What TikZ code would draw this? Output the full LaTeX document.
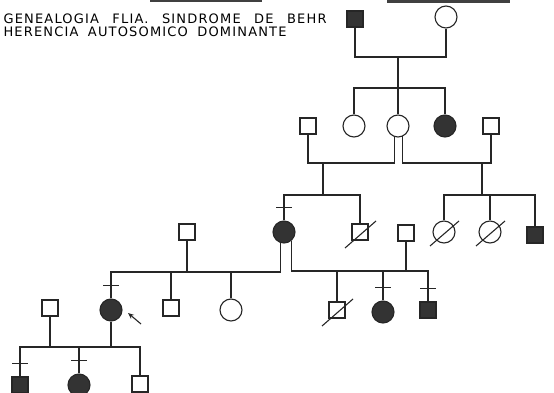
\documentclass[tikz,border=0pt]{standalone}
\usepackage{fontspec}
\newfontfamily\leroy[LetterSpace=9]{DejaVu Sans}
\usetikzlibrary{positioning}
\usetikzlibrary{arrows.meta}

\begin{document}
\begin{tikzpicture}[x=1pt,y=-1pt,line width=1.1pt,draw=black!85,
  male/.style={rectangle,draw,minimum size=16pt,inner sep=0pt},
  female/.style={circle,draw,minimum size=22pt,inner sep=0pt},
  aff/.style={fill=black!80}]
\useasboundingbox (0,0) rectangle (554,393);
\clip (0,0) rectangle (554,393);
\fill[black!75] (150,0) rectangle (262,2.5);
\fill[black!75] (387,0) rectangle (510,3);
\node[anchor=north west,align=left,inner sep=0pt,font=\leroy\fontsize{13}{13.5}\selectfont] (title) at (3,13)
  {\makebox[323pt][s]{GENEALOGIA FLIA. SINDROME DE BEHR}\\\makebox[283pt][s]{HERENCIA AUTOSOMICO DOMINANTE}};

% generation I
\node[male,aff] (I1) at (355,19) {};
\node[female] (I2) at (446,17) {};
% generation II
\node[male] (II1) at (308,126) {};
\node[female] (II2) at (354,126) {};
\node[female] (II3) at (398,126) {};
\node[female,aff] (II4) at (445,126) {};
\node[male] (II5) at (491,126) {};
% generation III
\node[male] (III1) at (187,232) {};
\node[female,aff] (III2) at (284,232) {};
\node[male] (III3) at (360,232) {};
\node[male] (III4) at (406,233) {};
\node[female] (III5) at (444,232) {};
\node[female] (III6) at (490,232) {};
\node[male,aff] (III7) at (535,235) {};
% generation IV
\node[male] (IV1) at (50,308) {};
\node[female,aff] (IV2) at (111,310) {};
\node[male] (IV3) at (171,308) {};
\node[female] (IV4) at (231,310) {};
\node[male] (IV5) at (337,310) {};
\node[female,aff] (IV6) at (383,312) {};
\node[male,aff] (IV7) at (428,310) {};
% generation V
\node[male,aff] (V1) at (20,385) {};
\node[female,aff] (V2) at (79,385) {};
\node[male] (V3) at (140,384) {};

\coordinate (mI) at (398,57);
\coordinate (sI) at (398,88);
\draw (I1) |- (mI) -| (I2);
\draw (mI) -- (sI);
\draw (II2) |- (sI) -| (II4);
\draw (sI) -- (II3);

\coordinate (mIIa) at (323,163);
\coordinate (mIIb) at (482,163);
\coordinate (sIIa) at (323,195);
\coordinate (sIIb) at (482,195);
\draw (II1) |- (mIIa) -| (II3.-110);
\draw (II3.-65) |- (mIIb) -| (II5);
\draw (mIIa) -- (sIIa);
\draw (mIIb) -- (sIIb);
\draw (III2) |- (sIIa) -| (III3);
\draw (III5) |- (sIIb) -| (III7);
\draw (sIIb -| III6) -- (III6);

\coordinate (mIIIa) at (187,272);
\coordinate (mIIIb) at (406,271);
\draw (III1) -- (mIIIa);
\draw (IV2) |- (mIIIa) -| (III2.-110);
\draw (mIIIa -| IV3) -- (IV3);
\draw (mIIIa -| IV4) -- (IV4);
\draw (III4) -- (mIIIb);
\draw (III2.-50) |- (mIIIb) -| (IV7);
\draw (mIIIb -| IV5) -- (IV5);
\draw (mIIIb -| IV6) -- (IV6);

\coordinate (mIV) at (50,347);
\draw (IV1) -- (mIV);
\draw (V1) |- (mIV) -| (V3);
\draw (IV2) -- (IV2 |- mIV);
\draw (mIV -| V2) -- (V2);

% ticks
\foreach \n in {III2,IV2,IV6,IV7,V1,V2}
  \draw ([shift={(-8,-13)}]\n.north) -- ++(16,0);
% deceased
\draw ([shift={(-15,16)}]III3.center) -- ([shift={(16,-11)}]III3.center);
\draw ([shift={(-15,16)}]IV5.center) -- ([shift={(16,-11)}]IV5.center);
\draw ([shift={(-14,14)}]III5.center) -- ([shift={(15,-11)}]III5.center);
\draw ([shift={(-14,14)}]III6.center) -- ([shift={(15,-11)}]III6.center);

% proband
\coordinate (pa) at (141,324);
\coordinate (pb) at (128,313);
\draw[-{Stealth[length=6pt,width=5pt]}] (pa) -- (pb);
\end{tikzpicture}
\end{document}
